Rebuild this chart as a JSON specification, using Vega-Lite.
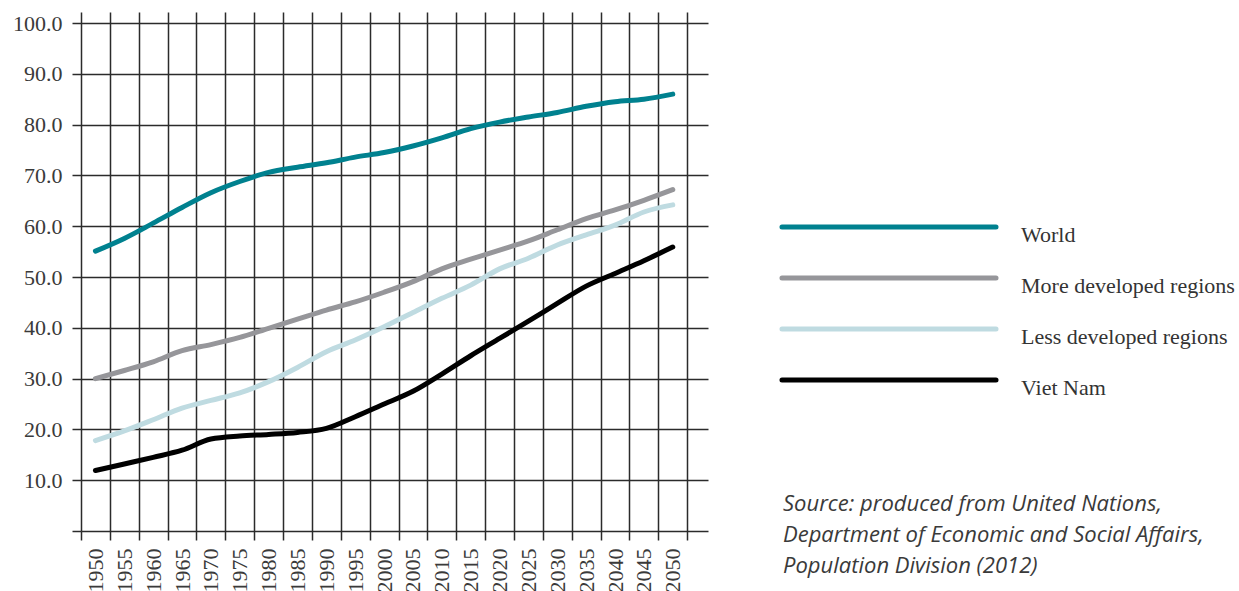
{
  "$schema": "https://vega.github.io/schema/vega-lite/v6.json",
  "width": 627,
  "height": 519,
  "autosize": {"type": "none"},
  "padding": {"left": 81, "top": 12, "right": 531, "bottom": 60},
  "background": "white",
  "config": {"view": {"stroke": null}},
  "title": {
    "text": ["Source: produced from United Nations,", "Department of Economic and Social Affairs,", "Population Division (2012)"],
    "orient": "top",
    "anchor": "start",
    "frame": "group",
    "baseline": "top",
    "offset": 0,
    "dx": 702,
    "dy": 566,
    "font": "Open Sans",
    "fontStyle": "italic",
    "fontWeight": "normal",
    "fontSize": 22,
    "lineHeight": 31,
    "color": "#3a3a3a"
  },
  "data": {"values": [
    {"year": 1950, "series": "World", "value": 55.1},
    {"year": 1955, "series": "World", "value": 57.6},
    {"year": 1960, "series": "World", "value": 60.6},
    {"year": 1965, "series": "World", "value": 63.7},
    {"year": 1970, "series": "World", "value": 66.6},
    {"year": 1975, "series": "World", "value": 68.8},
    {"year": 1980, "series": "World", "value": 70.6},
    {"year": 1985, "series": "World", "value": 71.6},
    {"year": 1990, "series": "World", "value": 72.5},
    {"year": 1995, "series": "World", "value": 73.6},
    {"year": 2000, "series": "World", "value": 74.5},
    {"year": 2005, "series": "World", "value": 75.8},
    {"year": 2010, "series": "World", "value": 77.4},
    {"year": 2015, "series": "World", "value": 79.2},
    {"year": 2020, "series": "World", "value": 80.5},
    {"year": 2025, "series": "World", "value": 81.5},
    {"year": 2030, "series": "World", "value": 82.4},
    {"year": 2035, "series": "World", "value": 83.6},
    {"year": 2040, "series": "World", "value": 84.5},
    {"year": 2045, "series": "World", "value": 85.0},
    {"year": 2050, "series": "World", "value": 86.0},
    {"year": 1950, "series": "More developed regions", "value": 30.0},
    {"year": 1955, "series": "More developed regions", "value": 31.6},
    {"year": 1960, "series": "More developed regions", "value": 33.3},
    {"year": 1965, "series": "More developed regions", "value": 35.5},
    {"year": 1970, "series": "More developed regions", "value": 36.7},
    {"year": 1975, "series": "More developed regions", "value": 38.1},
    {"year": 1980, "series": "More developed regions", "value": 39.9},
    {"year": 1985, "series": "More developed regions", "value": 41.7},
    {"year": 1990, "series": "More developed regions", "value": 43.5},
    {"year": 1995, "series": "More developed regions", "value": 45.1},
    {"year": 2000, "series": "More developed regions", "value": 47.0},
    {"year": 2005, "series": "More developed regions", "value": 49.1},
    {"year": 2010, "series": "More developed regions", "value": 51.6},
    {"year": 2015, "series": "More developed regions", "value": 53.5},
    {"year": 2020, "series": "More developed regions", "value": 55.3},
    {"year": 2025, "series": "More developed regions", "value": 57.1},
    {"year": 2030, "series": "More developed regions", "value": 59.3},
    {"year": 2035, "series": "More developed regions", "value": 61.5},
    {"year": 2040, "series": "More developed regions", "value": 63.2},
    {"year": 2045, "series": "More developed regions", "value": 65.1},
    {"year": 2050, "series": "More developed regions", "value": 67.2},
    {"year": 1950, "series": "Less developed regions", "value": 17.8},
    {"year": 1955, "series": "Less developed regions", "value": 19.7},
    {"year": 1960, "series": "Less developed regions", "value": 21.9},
    {"year": 1965, "series": "Less developed regions", "value": 24.2},
    {"year": 1970, "series": "Less developed regions", "value": 25.7},
    {"year": 1975, "series": "Less developed regions", "value": 27.2},
    {"year": 1980, "series": "Less developed regions", "value": 29.4},
    {"year": 1985, "series": "Less developed regions", "value": 32.2},
    {"year": 1990, "series": "Less developed regions", "value": 35.3},
    {"year": 1995, "series": "Less developed regions", "value": 37.6},
    {"year": 2000, "series": "Less developed regions", "value": 40.2},
    {"year": 2005, "series": "Less developed regions", "value": 43.0},
    {"year": 2010, "series": "Less developed regions", "value": 45.8},
    {"year": 2015, "series": "Less developed regions", "value": 48.4},
    {"year": 2020, "series": "Less developed regions", "value": 51.6},
    {"year": 2025, "series": "Less developed regions", "value": 53.7},
    {"year": 2030, "series": "Less developed regions", "value": 56.3},
    {"year": 2035, "series": "Less developed regions", "value": 58.3},
    {"year": 2040, "series": "Less developed regions", "value": 60.2},
    {"year": 2045, "series": "Less developed regions", "value": 62.8},
    {"year": 2050, "series": "Less developed regions", "value": 64.2},
    {"year": 1950, "series": "Viet Nam", "value": 11.9},
    {"year": 1955, "series": "Viet Nam", "value": 13.2},
    {"year": 1960, "series": "Viet Nam", "value": 14.5},
    {"year": 1965, "series": "Viet Nam", "value": 15.9},
    {"year": 1970, "series": "Viet Nam", "value": 18.1},
    {"year": 1975, "series": "Viet Nam", "value": 18.7},
    {"year": 1980, "series": "Viet Nam", "value": 19.0},
    {"year": 1985, "series": "Viet Nam", "value": 19.4},
    {"year": 1990, "series": "Viet Nam", "value": 20.2},
    {"year": 1995, "series": "Viet Nam", "value": 22.5},
    {"year": 2000, "series": "Viet Nam", "value": 25.0},
    {"year": 2005, "series": "Viet Nam", "value": 27.5},
    {"year": 2010, "series": "Viet Nam", "value": 30.9},
    {"year": 2015, "series": "Viet Nam", "value": 34.5},
    {"year": 2020, "series": "Viet Nam", "value": 37.9},
    {"year": 2025, "series": "Viet Nam", "value": 41.3},
    {"year": 2030, "series": "Viet Nam", "value": 44.8},
    {"year": 2035, "series": "Viet Nam", "value": 48.2},
    {"year": 2040, "series": "Viet Nam", "value": 50.7},
    {"year": 2045, "series": "Viet Nam", "value": 53.2},
    {"year": 2050, "series": "Viet Nam", "value": 55.9}
  ]},
  "mark": {"type": "line", "strokeWidth": 5, "strokeCap": "round", "strokeJoin": "round", "interpolate": "monotone"},
  "encoding": {
    "x": {
      "field": "year",
      "type": "quantitative",
      "scale": {"domain": [1947.5, 2056.1], "nice": false, "zero": false},
      "axis": {
        "title": null,
        "domain": false,
        "values": [1947.5, 1950, 1952.5, 1955, 1957.5, 1960, 1962.5, 1965, 1967.5, 1970, 1972.5, 1975, 1977.5, 1980, 1982.5, 1985, 1987.5, 1990, 1992.5, 1995, 1997.5, 2000, 2002.5, 2005, 2007.5, 2010, 2012.5, 2015, 2017.5, 2020, 2022.5, 2025, 2027.5, 2030, 2032.5, 2035, 2037.5, 2040, 2042.5, 2045, 2047.5, 2050, 2052.5],
        "labelExpr": "datum.value % 5 == 0 ? toString(datum.value) : ''",
        "grid": true,
        "gridColor": "#2b2b2b",
        "gridWidth": 1.5,
        "gridOpacity": {"condition": {"test": "datum.value % 5 == 0", "value": 0}, "value": 1},
        "ticks": true,
        "tickSize": 9,
        "tickColor": "#2b2b2b",
        "tickWidth": 1.5,
        "tickOpacity": {"condition": {"test": "datum.value % 5 == 0", "value": 0}, "value": 1},
        "labelAngle": 270,
        "labelAlign": "right",
        "labelBaseline": "middle",
        "labelPadding": 8,
        "labelFont": "Liberation Serif",
        "labelFontSize": 22,
        "labelColor": "#3a3a3a",
        "labelOverlap": false,
        "labelFlush": false
      }
    },
    "y": {
      "field": "value",
      "type": "quantitative",
      "scale": {"domain": [0, 102.17], "nice": false},
      "axis": {
        "title": null,
        "domain": false,
        "values": [0, 10, 20, 30, 40, 50, 60, 70, 80, 90, 100],
        "labelExpr": "datum.value == 0 ? '' : format(datum.value, '.1f')",
        "grid": true,
        "gridColor": "#2b2b2b",
        "gridWidth": 1.5,
        "ticks": true,
        "tickSize": 9,
        "tickColor": "#2b2b2b",
        "tickWidth": 1.5,
        "labelPadding": 10,
        "labelFont": "Liberation Serif",
        "labelFontSize": 22,
        "labelColor": "#3a3a3a",
        "labelOverlap": false,
        "labelFlush": false
      }
    },
    "color": {
      "field": "series",
      "type": "nominal",
      "scale": {
        "domain": ["World", "More developed regions", "Less developed regions", "Viet Nam"],
        "range": ["#00818f", "#96969a", "#bfdbe1", "#000000"]
      },
      "legend": {
        "title": null,
        "orient": "none",
        "legendX": 784,
        "legendY": 191,
        "padding": 0,
        "symbolType": "M-5,0H5",
        "symbolSize": 1832,
        "symbolStrokeWidth": 5,
        "labelFont": "Liberation Serif",
        "labelFontSize": 22,
        "labelColor": "#333333",
        "labelOffset": 108,
        "labelLimit": 400,
        "rowPadding": 8,
        "encode": {
          "symbols": {"update": {"strokeCap": {"value": "round"}}},
          "labels": {"update": {"dy": {"value": 8}}}
        }
      }
    }
  }
}
